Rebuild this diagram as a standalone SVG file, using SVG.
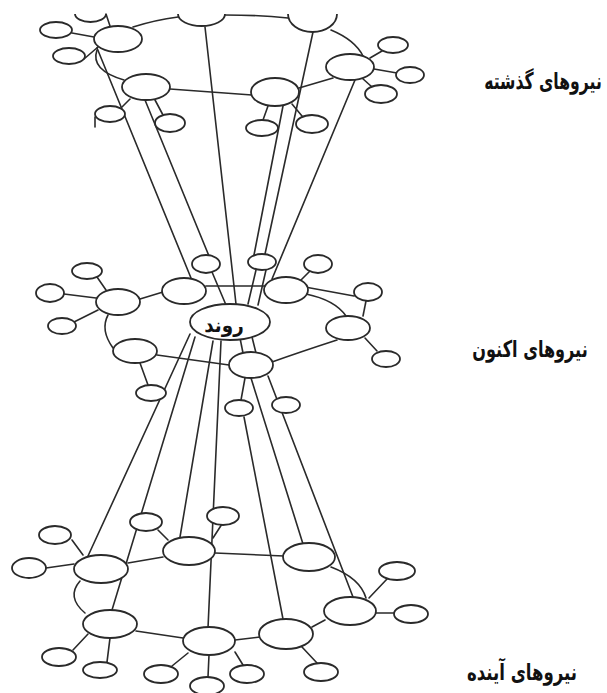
<svg xmlns="http://www.w3.org/2000/svg" width="607" height="693" viewBox="0 0 607 693">
<style>
.c{fill:none;stroke:#2a2a2a;stroke-width:1.6;stroke-linecap:round}
.n{fill:#fff;stroke:#2a2a2a;stroke-width:1.8}
.lbl{font-family:"DejaVu Sans","Noto Sans",sans-serif;font-weight:bold;font-size:23px;fill:#111;text-anchor:middle}
.rl{font-family:"DejaVu Sans","Noto Sans",sans-serif;font-weight:bold;font-size:20px;fill:#111;text-anchor:middle}
</style>
<rect width="607" height="693" fill="#fff"/>
<g id="connectors" class="c">
<!-- past -->
<path d="M106,14 L110,26"/>
<path d="M133,27 Q155,20 178,17"/>
<path d="M225,15 Q260,15 288,18"/>
<path d="M72,33 L94,37"/>
<path d="M84,59 L98,47"/>
<path d="M97,50 Q90,70 124,80"/>
<path d="M170,89 L252,95"/>
<path d="M299,88 L333,78"/>
<path d="M331,30 Q355,40 363,56"/>
<path d="M370,58 L382,51"/>
<path d="M374,69 L397,73"/>
<path d="M362,78 L372,87"/>
<path d="M130,99 L122,107"/>
<path d="M95,117 L95,127"/>
<path d="M155,100 L163,115"/>
<path d="M268,106 L263,120"/>
<path d="M292,104 L302,116"/>
<path d="M97,48 L191,278"/>
<path d="M145,100 L209,256"/>
<path d="M205,27 L236,304"/>
<path d="M283,106 L254,255"/>
<path d="M313,32 L265,254"/>
<path d="M355,80 L272,279"/>
<!-- present -->
<path d="M97,277 L106,290"/>
<path d="M64,294 L96,298"/>
<path d="M74,322 L98,310"/>
<path d="M140,299 L163,292"/>
<path d="M206,286 L264,286"/>
<path d="M306,294 Q335,300 346,316"/>
<path d="M337,340 Q300,352 272,362"/>
<path d="M229,365 L157,355"/>
<path d="M113,348 Q100,330 108,315"/>
<path d="M140,363 L148,385"/>
<path d="M310,271 L300,281"/>
<path d="M305,287 L354,296"/>
<path d="M366,301 L363,316"/>
<path d="M365,338 L377,351"/>
<path d="M212,272 L226,305"/>
<path d="M256,270 L248,304"/>
<path d="M266,270 L258,305"/>
<path d="M245,378 L241,400"/>
<path d="M240,338 L243,353"/>
<path d="M252,337 L256,353"/>
<!-- present to future -->
<path d="M190,334 L88,556"/>
<path d="M195,337 L112,610"/>
<path d="M213,341 L180,537"/>
<path d="M221,341 L208,628"/>
<path d="M244,417 L283,619"/>
<path d="M251,378 L303,544"/>
<path d="M268,376 L353,597"/>
<!-- future -->
<path d="M72,540 L83,555"/>
<path d="M46,568 L74,564"/>
<path d="M128,563 L163,557"/>
<path d="M215,553 L284,556"/>
<path d="M158,530 L168,540"/>
<path d="M222,524 L213,538"/>
<path d="M80,581 Q66,597 85,613"/>
<path d="M88,634 L73,650"/>
<path d="M110,638 L107,662"/>
<path d="M136,631 L183,638"/>
<path d="M188,653 L172,666"/>
<path d="M209,655 L208,677"/>
<path d="M235,652 L243,665"/>
<path d="M235,640 L260,637"/>
<path d="M302,647 L317,663"/>
<path d="M312,627 L325,620"/>
<path d="M331,567 Q360,578 366,598"/>
<path d="M369,598 L387,579"/>
<path d="M376,613 L394,613"/>
</g>
<!-- past level -->
<g id="p-cut-left"><path class="n" d="M75,14 A15.5,8 0 0 0 106,14"/></g>
<g id="p-cut-mid"><path class="n" d="M178,14 A23.5,12 0 0 0 225,14"/></g>
<g id="p-cut-right"><path class="n" d="M288,14 A24.5,18 0 0 0 337,14"/></g>
<g id="p1"><ellipse class="n" cx="118" cy="39" rx="24" ry="13"/></g>
<g id="p1a"><ellipse class="n" cx="56" cy="30" rx="16" ry="8"/></g>
<g id="p1b"><ellipse class="n" cx="69" cy="56" rx="16" ry="8"/></g>
<g id="p2"><ellipse class="n" cx="146" cy="87" rx="24" ry="13"/></g>
<g id="p2a"><ellipse class="n" cx="110" cy="114" rx="15" ry="8"/></g>
<g id="p2b"><ellipse class="n" cx="170" cy="123" rx="15" ry="9"/></g>
<g id="p3"><ellipse class="n" cx="275" cy="92" rx="24" ry="14"/></g>
<g id="p3a"><ellipse class="n" cx="262" cy="128" rx="16" ry="8"/></g>
<g id="p3b"><ellipse class="n" cx="312" cy="124" rx="16" ry="9"/></g>
<g id="p4"><ellipse class="n" cx="350" cy="67" rx="24" ry="13"/></g>
<g id="p4a"><ellipse class="n" cx="393" cy="45" rx="15" ry="8"/></g>
<g id="p4b"><ellipse class="n" cx="410" cy="75" rx="14" ry="8"/></g>
<g id="p4c"><ellipse class="n" cx="381" cy="94" rx="16" ry="9"/></g>
<!-- present level -->
<g id="n1"><ellipse class="n" cx="118" cy="302" rx="22" ry="13"/></g>
<g id="n1a"><ellipse class="n" cx="87" cy="271" rx="15" ry="8"/></g>
<g id="n1b"><ellipse class="n" cx="50" cy="293" rx="14" ry="9"/></g>
<g id="n1c"><ellipse class="n" cx="62" cy="326" rx="14" ry="8"/></g>
<g id="n2"><ellipse class="n" cx="184" cy="291" rx="22" ry="13"/></g>
<g id="n3"><ellipse class="n" cx="286" cy="290" rx="22" ry="13"/></g>
<g id="n4"><ellipse class="n" cx="348" cy="328" rx="22" ry="12"/></g>
<g id="n4a"><ellipse class="n" cx="318" cy="264" rx="14" ry="9"/></g>
<g id="n4b"><ellipse class="n" cx="368" cy="292" rx="14" ry="9"/></g>
<g id="n4c"><ellipse class="n" cx="386" cy="359" rx="14" ry="8"/></g>
<g id="n5"><ellipse class="n" cx="251" cy="365" rx="22" ry="13"/></g>
<g id="n5a"><ellipse class="n" cx="239" cy="408" rx="14" ry="8"/></g>
<g id="n5b"><ellipse class="n" cx="286" cy="405" rx="14" ry="8"/></g>
<g id="n6"><ellipse class="n" cx="135" cy="351" rx="22" ry="12"/></g>
<g id="n6a"><ellipse class="n" cx="151" cy="393" rx="15" ry="8"/></g>
<g id="s1"><ellipse class="n" cx="206" cy="264" rx="14" ry="9"/></g>
<g id="s2"><ellipse class="n" cx="262" cy="262" rx="14" ry="8"/></g>
<g id="rond"><ellipse class="n" cx="230" cy="322" rx="40" ry="18"/><text class="rl" transform="translate(224,332) scale(0.92,1)">روند</text></g>
<!-- future level -->
<g id="f1"><ellipse class="n" cx="101" cy="569" rx="27" ry="14"/></g>
<g id="f1a"><ellipse class="n" cx="55" cy="535" rx="16" ry="9"/></g>
<g id="f1b"><ellipse class="n" cx="29" cy="568" rx="17" ry="10"/></g>
<g id="f2"><ellipse class="n" cx="189" cy="551" rx="26" ry="14"/></g>
<g id="f2a"><ellipse class="n" cx="146" cy="522" rx="16" ry="9"/></g>
<g id="f2b"><ellipse class="n" cx="223" cy="516" rx="16" ry="9"/></g>
<g id="f3"><ellipse class="n" cx="309" cy="557" rx="26" ry="14"/></g>
<g id="f4"><ellipse class="n" cx="350" cy="611" rx="26" ry="14"/></g>
<g id="f4a"><ellipse class="n" cx="397" cy="571" rx="18" ry="9"/></g>
<g id="f4b"><ellipse class="n" cx="411" cy="614" rx="17" ry="9"/></g>
<g id="f5"><ellipse class="n" cx="286" cy="634" rx="27" ry="15"/></g>
<g id="f5a"><ellipse class="n" cx="321" cy="672" rx="17" ry="9"/></g>
<g id="f6"><ellipse class="n" cx="209" cy="641" rx="26" ry="14"/></g>
<g id="f6a"><ellipse class="n" cx="161" cy="674" rx="17" ry="9"/></g>
<g id="f6b"><ellipse class="n" cx="207" cy="686" rx="17" ry="9"/></g>
<g id="f6c"><ellipse class="n" cx="247" cy="674" rx="17" ry="9"/></g>
<g id="f7"><ellipse class="n" cx="110" cy="624" rx="27" ry="14"/></g>
<g id="f7a"><ellipse class="n" cx="59" cy="657" rx="17" ry="9"/></g>
<g id="f7b"><ellipse class="n" cx="100" cy="670" rx="17" ry="8"/></g>
<!-- labels -->
<g id="label-past"><text class="lbl" transform="translate(543,89) scale(0.68,1)">نیروهای گذشته</text></g>
<g id="label-present"><text class="lbl" transform="translate(530,357) scale(0.7,1)">نیروهای اکنون</text></g>
<g id="label-future"><text class="lbl" transform="translate(522,680) scale(0.72,1)">نیروهای آینده</text></g>
</svg>
